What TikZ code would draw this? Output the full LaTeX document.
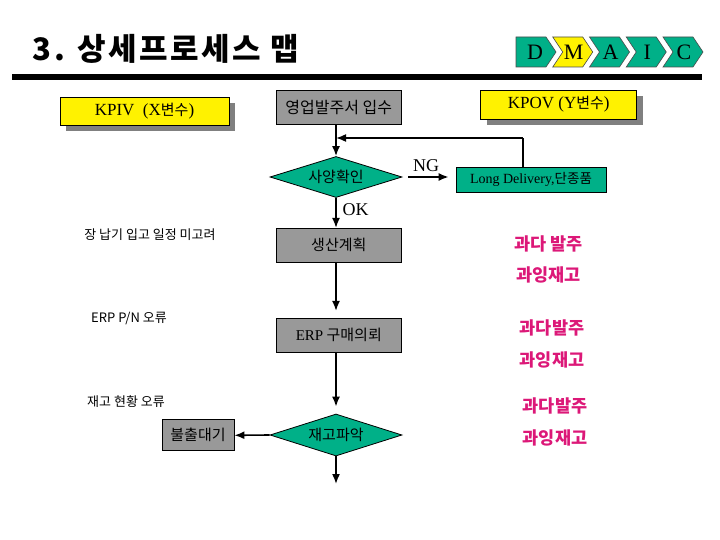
\documentclass[tikz,border=0pt]{standalone}
\usepackage{fontspec}
\setmainfont{Liberation Serif}
\newfontfamily\kr{Noto Sans CJK KR}
\usetikzlibrary{shapes.geometric,arrows.meta,calc,shadows}
\definecolor{tgreen}{RGB}{0,176,136}
\definecolor{bgrey}{RGB}{153,153,153}
\definecolor{shgrey}{RGB}{128,128,128}
\definecolor{mag}{RGB}{220,24,120}
\begin{document}
\begin{tikzpicture}[x=1pt,y=-1pt,
  greybox/.style={draw=black,fill=bgrey,line width=0.8pt,minimum width=125pt,minimum height=34pt,inner sep=0pt,font=\kr\fontsize{15}{18}\selectfont},
  ybox/.style={draw=black,fill=yellow,line width=0.8pt,inner sep=0pt,font=\fontsize{17}{20}\selectfont,
     drop shadow={shadow xshift=6pt,shadow yshift=-6pt,fill=shgrey,opacity=1}},
  dia/.style={diamond,aspect=3.3,draw=black,fill=tgreen,line width=0.8pt,inner sep=0pt,minimum width=132pt,minimum height=41pt,font=\kr\fontsize{15}{18}\selectfont},
  gbox/.style={draw=black,fill=tgreen,line width=0.8pt,inner sep=0pt,minimum width=150pt,minimum height=25pt},
  arr/.style={line width=1.6pt,-{Latex[length=10pt,width=8pt]}},
  lbl/.style={font=\fontsize{18}{20}\selectfont},
  lefttxt/.style={font=\kr\fontsize{13}{15}\selectfont},
  magtxt/.style={text=mag,font=\kr\bfseries\fontsize{17.5}{20}\selectfont},
  chev/.style={draw=black!70,line width=0.6pt}]
\useasboundingbox (0,0) rectangle (720,540);

% title and rule
\node (title) at (166,49) {\kr\bfseries\fontsize{31}{34}\selectfont\addfontfeature{LetterSpace=8}3. 상세프로세스 맵};
\draw[line width=6pt] (12,77.5) -- (702,77.5);

% DMAIC chevrons
\draw[chev,fill=tgreen] (516,37) -- (546,37) -- (556,52) -- (546,67) -- (516,67) -- cycle;
\node[font=\fontsize{22}{24}\selectfont] (cD) at (535,52) {D};
\foreach \i/\c/\l in {1/yellow/M,2/tgreen/A,3/tgreen/I,4/tgreen/C}{
  \pgfmathsetmacro{\xt}{556+36.75*\i}
  \draw[chev,fill=\c] (\xt-40,37) -- (\xt-10,37) -- (\xt,52) -- (\xt-10,67) -- (\xt-40,67) -- (\xt-30,52) -- cycle;
  \node[font=\fontsize{22}{24}\selectfont] (c\l) at (\xt-19,52) {\l};
}

% column coordinate
\coordinate (col) at (336,0);

% boxes
\node[ybox,minimum width=169pt,minimum height=28pt] (kpiv) at (144.5,111) {KPIV\ \ (X{\kr\fontsize{15}{18}\selectfont 변수})};
\node[greybox,font=\kr\fontsize{16}{18}\selectfont] (yb) at (338.8,107.3) {영업발주서 입수};
\node[ybox,minimum width=156pt,minimum height=29pt] (kpov) at (558.7,104.5) {KPOV (Y{\kr\fontsize{15}{18}\selectfont 변수})};

\node[dia] (d1) at (336,177) {사양확인};
\node[gbox] (ld) at (531,179.5) {\fontsize{14}{16}\selectfont Long Delivery,{\kr\fontsize{13.5}{16}\selectfont 단종품}};
\node[greybox] (b2) at (338.8,245.3) {생산계획};
\node[greybox] (b3) at (338.8,335.3) {{\fontsize{15}{18}\selectfont\rmfamily ERP} 구매의뢰};
\node[dia,minimum height=42pt] (d2) at (336,435) {재고파악};
\node[greybox,minimum width=72pt,minimum height=31pt] (b4) at (198,435.3) {불출대기};

% connectors
\draw[arr] (yb.south -| col) -- (d1.north);
\draw[arr,shorten <=6pt,shorten >=7pt] (d1.east) -- (d1.east -| ld.west);
\node[lbl] (ng) at (426,165.5) {NG};
\coordinate (fb) at (523,138);
\draw[line width=1.6pt] (ld.north -| fb) -- (fb);
\draw[arr] (fb) -- (col |- fb);
\draw[arr] (d1.south) -- (d1.south |- b2.north);
\node[lbl] (ok) at (355.5,210) {OK};
\draw[arr,shorten >=7pt] (b2.south -| col) -- (col |- b3.north);
\draw[arr,shorten >=7pt] (b3.south -| col) -- (d2.north);
\coordinate (endp) at (336,484);
\draw[arr] (d2.south) -- (endp);
\draw[arr] (d2.west) -- (b4.east);

% left texts
\node[lefttxt] (t1) at (150,235) {장 납기 입고 일정 미고려};
\node[lefttxt] (t2) at (129,318.5) {ERP P/N 오류};
\node[lefttxt] (t3) at (126,402) {재고 현황 오류};

% right magenta texts
\node[magtxt] (m1) at (548.7,244) {과다 발주};
\node[magtxt] (m2) at (548.5,275) {과잉재고};
\node[magtxt] (m3) at (552,327.5) {과다발주};
\node[magtxt] (m4) at (552,360) {과잉재고};
\node[magtxt] (m5) at (555,405.5) {과다발주};
\node[magtxt] (m6) at (555,438) {과잉재고};
\end{tikzpicture}
\end{document}
